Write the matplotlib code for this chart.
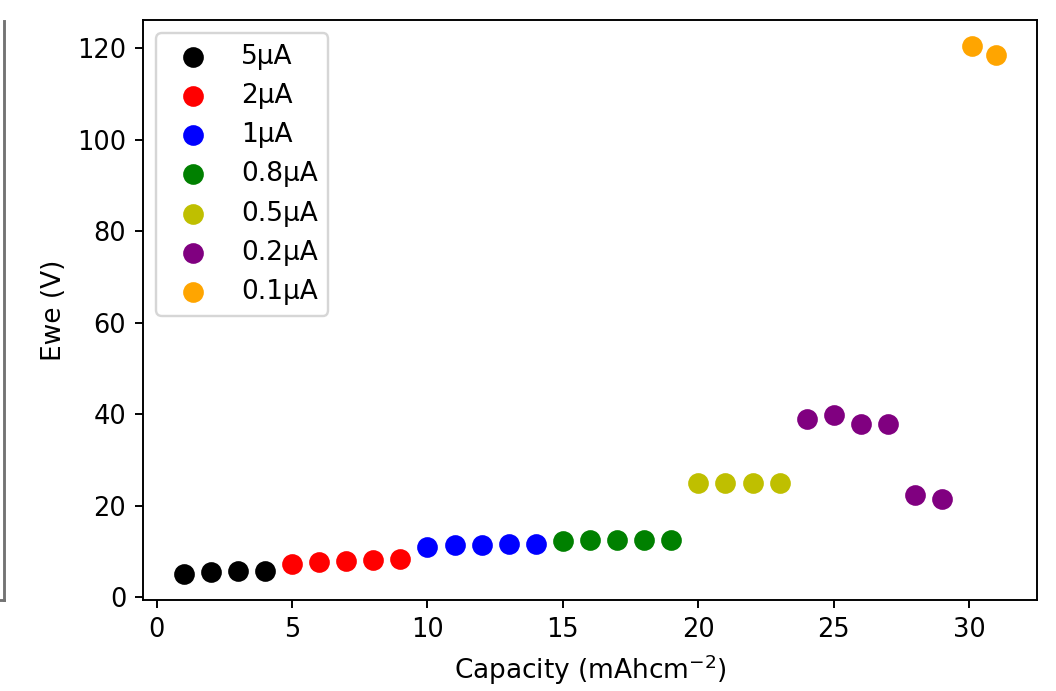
import matplotlib
matplotlib.use("Agg")
import matplotlib.pyplot as plt
from matplotlib.lines import Line2D

# capacity (x) and Ewe (y) for each current step
labels = ["5μA", "2μA", "1μA", "0.8μA", "0.5μA", "0.2μA", "0.1μA"]
colors = ["black", "red", "blue", "green", "y", "purple", "orange"]

x_5 = [1, 2, 3, 4]
y_5 = [5.2, 5.5, 5.7, 5.8]
x_2 = [5, 6, 7, 8, 9]
y_2 = [7.4, 7.8, 8.0, 8.2, 8.3]
x_1 = [10, 11, 12, 13, 14]
y_1 = [11.1, 11.4, 11.5, 11.6, 11.6]
x_08 = [15, 16, 17, 18, 19]
y_08 = [12.4, 12.5, 12.5, 12.5, 12.6]
x_05 = [20, 21, 22, 23]
y_05 = [24.9, 24.9, 24.9, 24.9]
x_02 = [24, 25, 26, 27, 28, 29]
y_02 = [38.9, 39.9, 38.0, 38.0, 22.3, 21.6]
x_01 = [30.1, 31]
y_01 = [120.4, 118.5]

xs = [x_5, x_2, x_1, x_08, x_05, x_02, x_01]
ys = [y_5, y_2, y_1, y_08, y_05, y_02, y_01]

dpi = 173
fig = plt.figure(figsize=(1056 / dpi, 691 / dpi), dpi=dpi)
ax = fig.add_axes([143 / 1056, 91 / 691, 894 / 1056, 580 / 691])

for x, y, c, lab in zip(xs, ys, colors, labels):
    ax.scatter(x, y, color=c, s=58, label=lab)

ax.set_xlabel("Capacity (mAhcm$^{-2}$)", fontsize=11)
ax.set_ylabel("Ewe (V)", fontsize=11)
ax.set_yticks([0, 20, 40, 60, 80, 100, 120])
ax.tick_params(labelsize=10.7)
ax.legend(loc="upper left", fontsize=11)

# edge of the neighbouring panel that was cropped in the original
fig.add_artist(Line2D([4 / 1056, 4 / 1056], [91 / 691, 670 / 691],
                      color="0.45", lw=1.2))
fig.add_artist(Line2D([0, 4 / 1056], [91 / 691, 91 / 691],
                      color="0.45", lw=1.2))

fig.savefig("out.png", dpi=dpi)
